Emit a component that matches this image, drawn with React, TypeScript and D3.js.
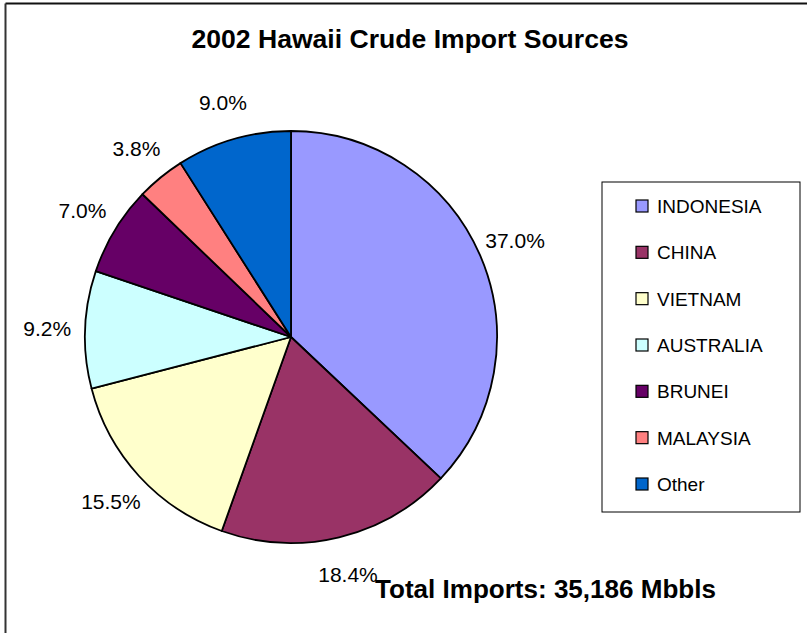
import React from "react";
import * as d3 from "d3";

const categories = ["INDONESIA", "CHINA", "VIETNAM", "AUSTRALIA", "BRUNEI", "MALAYSIA", "Other"];
const shares = [37.0, 18.4, 15.5, 9.2, 7.0, 3.8, 9.0];
const colors = ["#9999FF", "#993366", "#FFFFCC", "#CCFFFF", "#660066", "#FF8080", "#0066CC"];
const title = "2002 Hawaii Crude Import Sources";
const footnote = "Total Imports: 35,186 Mbbls";

const W = 807;
const H = 633;
const FONT = "Arial, 'Liberation Sans', Helvetica, sans-serif";

export default function App() {
  const cx = 291;
  const cy = 337;
  const r = 206;
  const labelR = r + 38;

  const data = categories.map((c, i) => ({ name: c, value: shares[i], color: colors[i] }));
  const pie = d3.pie<any>().sort(null).value((d: any) => d.value).startAngle(0).endAngle(2 * Math.PI);
  const arcs = pie(data);
  const arcGen = d3.arc<any>().innerRadius(0).outerRadius(r);

  const legendX = 602;
  const legendY = 182;
  const legendW = 198;
  const legendH = 330;
  const rowScale = d3.scalePoint<string>().domain(categories).range([206, 484]);

  return (
    <svg
      width={W}
      height={H}
      style={{ position: "absolute", left: 0, top: 0, background: "#fff" }}
      fontFamily={FONT}
    >
      <rect x={0} y={0} width={W} height={H} fill="#fff" />
      {/* outer frame */}
      <line x1={5.5} y1={3.5} x2={W + 5} y2={3.5} stroke="#111" strokeWidth={2} />
      <line x1={5.5} y1={3.5} x2={5.5} y2={H + 5} stroke="#333" strokeWidth={2} />

      <text
        x={410}
        y={48}
        textAnchor="middle"
        fontSize={25}
        fontWeight="bold"
        textLength={437}
        lengthAdjust="spacingAndGlyphs"
      >
        {title}
      </text>

      <g transform={`translate(${cx},${cy})`}>
        {arcs.map((a, i) => (
          <path key={i} d={arcGen(a) as string} fill={a.data.color} stroke="#000" strokeWidth={1.8} strokeLinejoin="round" />
        ))}
        {arcs.map((a, i) => {
          const mid = (a.startAngle + a.endAngle) / 2;
          const x = labelR * Math.sin(mid);
          const y = -labelR * Math.cos(mid);
          return (
            <text key={"l" + i} x={x} y={y} dy="0.36em" textAnchor="middle" fontSize={21} fill="#000">
              {a.data.value.toFixed(1) + "%"}
            </text>
          );
        })}
      </g>

      <rect x={legendX} y={legendY} width={legendW} height={legendH} fill="#fff" stroke="#000" strokeWidth={1} />
      {data.map((d, i) => {
        const yc = rowScale(d.name) as number;
        return (
          <g key={"lg" + i}>
            <rect x={636} y={yc - 6} width={12} height={12} fill={d.color} stroke="#000" strokeWidth={1.2} />
            <text x={657} y={yc} dy="0.36em" fontSize={19} fill="#000">
              {d.name}
            </text>
          </g>
        );
      })}

      <text x={375} y={598} fontSize={25} fontWeight="bold" textLength={341} lengthAdjust="spacingAndGlyphs">
        {footnote}
      </text>
    </svg>
  );
}
